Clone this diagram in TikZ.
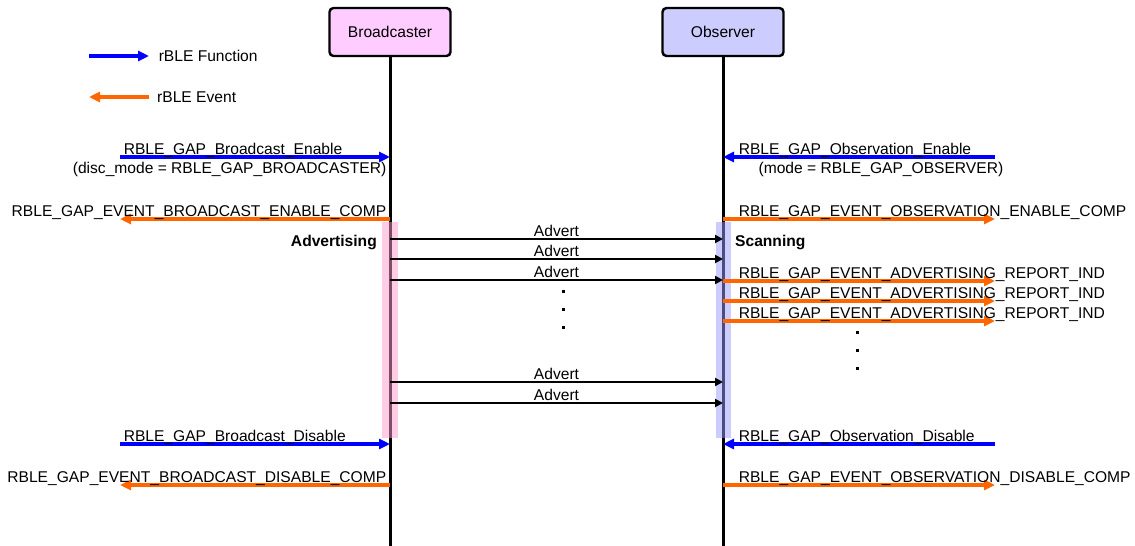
\documentclass[tikz,border=0pt]{standalone}
\usepackage{fontspec}
\setmainfont{Liberation Sans}
\usetikzlibrary{arrows.meta}
\definecolor{FuncBlue}{RGB}{0,0,255}
\definecolor{EvtOrange}{RGB}{255,102,0}
\definecolor{BrdPink}{RGB}{255,204,255}
\definecolor{ObsBlue}{RGB}{204,204,255}
\definecolor{BarPink}{RGB}{255,153,205}
\definecolor{BarBlue}{RGB}{153,153,255}

\begin{document}
\begin{tikzpicture}[x=1pt,y=-1pt,
	font=\fontsize{15.6}{18}\selectfont,
	actor/.style={draw,line width=2.4pt,rounded corners=4pt,minimum width=121pt,minimum height=48pt},
	life/.style={line width=3pt},
	func/.style={draw=FuncBlue,line width=3.5pt,-{Triangle[length=11pt,width=10pt]}},
	evt/.style={draw=EvtOrange,line width=3.5pt,-{Triangle[length=11pt,width=10pt]}},
	adv/.style={line width=2.3pt,-{Triangle[length=8pt,width=8pt]}},
	lbl/.style={inner sep=0pt,text=black}]
	\useasboundingbox (0,0) rectangle (1135,546);
	\node[actor,fill=BrdPink] (brd) at (390,32) {Broadcaster};
	\node[actor,fill=ObsBlue] (obs) at (723,32) {Observer};
	\coordinate (brdEnd) at (390,546);
	\coordinate (obsEnd) at (723,546);
	\draw[life] (brd) -- (brdEnd);
	\draw[life] (obs) -- (obsEnd);
	\fill[BarPink,fill opacity=0.5] (382,222) rectangle (398,438);
	\fill[BarBlue,fill opacity=0.5] (716,222) rectangle (731,438);
	\foreach \Y in {157,219,239,259,280,281,301,321,382,403,444,485}
	{\coordinate (b\Y) at (390,\Y);
	\coordinate (o\Y) at (723,\Y);
	\coordinate (l\Y) at (120,\Y);
	\coordinate (r\Y) at (995,\Y);}
	\coordinate (fa) at (89,56);
	\coordinate (fb) at (149,56);
	\coordinate (ea) at (89,97);
	\coordinate (eb) at (149,97);
	\draw[func] (fa) -- (fb) node[lbl,right=8pt] {rBLE Function};
	\draw[evt] (eb) -- (ea);
	\node[lbl,right=8pt] (evtkey) at (eb) {rBLE Event};
	\draw[func] (l157) -- (b157)
		node[lbl,pos=0,anchor=base west,xshift=2pt,yshift=3pt] {RBLE\_GAP\_Broadcast\_Enable}
		node[lbl,pos=1,anchor=base east,xshift=-2pt,yshift=-16.5pt] {(disc\_mode = RBLE\_GAP\_BROADCASTER)};
	\draw[func] (r157) -- (o157)
		node[lbl,pos=1,anchor=base west,xshift=14pt,yshift=3pt] {RBLE\_GAP\_Observation\_Enable}
		node[lbl,pos=0,anchor=base east,xshift=10pt,yshift=-16.5pt] {(mode = RBLE\_GAP\_OBSERVER)};
	\draw[evt] (b219) -- (l219)
		node[lbl,pos=0,anchor=base east,xshift=-2pt,yshift=3pt] {RBLE\_GAP\_EVENT\_BROADCAST\_ENABLE\_COMP};
	\draw[evt] (o219) -- (r219)
		node[lbl,pos=0,anchor=base west,xshift=14pt,yshift=3pt] {RBLE\_GAP\_EVENT\_OBSERVATION\_ENABLE\_COMP};
	\node[lbl,anchor=base east,font=\fontsize{15.6}{18}\selectfont\bfseries] (advtxt) at (377,246) {Advertising};
	\node[lbl,anchor=base west,font=\fontsize{15.6}{18}\selectfont\bfseries] (scntxt) at (735,246) {Scanning};
	\foreach \Y in {239,259,280,382,403}
	{\draw[adv] (b\Y) -- (o\Y) node[lbl,midway,anchor=base,yshift=3pt] {Advert};}
	\foreach \Y in {281,301,321}
	{\draw[evt] (o\Y) -- (r\Y)
		node[lbl,pos=0,anchor=base west,xshift=14pt,yshift=3pt] {RBLE\_GAP\_EVENT\_ADVERTISING\_REPORT\_IND};}
	\foreach \Y in {291,309,327}
	{\fill (561.5,\Y-1.5) rectangle +(3,3);}
	\foreach \Y in {332,350,368}
	{\fill (855.5,\Y-1.5) rectangle +(3,3);}
	\draw[func] (l444) -- (b444)
		node[lbl,pos=0,anchor=base west,xshift=2pt,yshift=3pt] {RBLE\_GAP\_Broadcast\_Disable};
	\draw[func] (r444) -- (o444)
		node[lbl,pos=1,anchor=base west,xshift=14pt,yshift=3pt] {RBLE\_GAP\_Observation\_Disable};
	\draw[evt] (b485) -- (l485)
		node[lbl,pos=0,anchor=base east,xshift=-2pt,yshift=3pt] {RBLE\_GAP\_EVENT\_BROADCAST\_DISABLE\_COMP};
	\draw[evt] (o485) -- (r485)
		node[lbl,pos=0,anchor=base west,xshift=14pt,yshift=3pt] {RBLE\_GAP\_EVENT\_OBSERVATION\_DISABLE\_COMP};
\end{tikzpicture}
\end{document}
